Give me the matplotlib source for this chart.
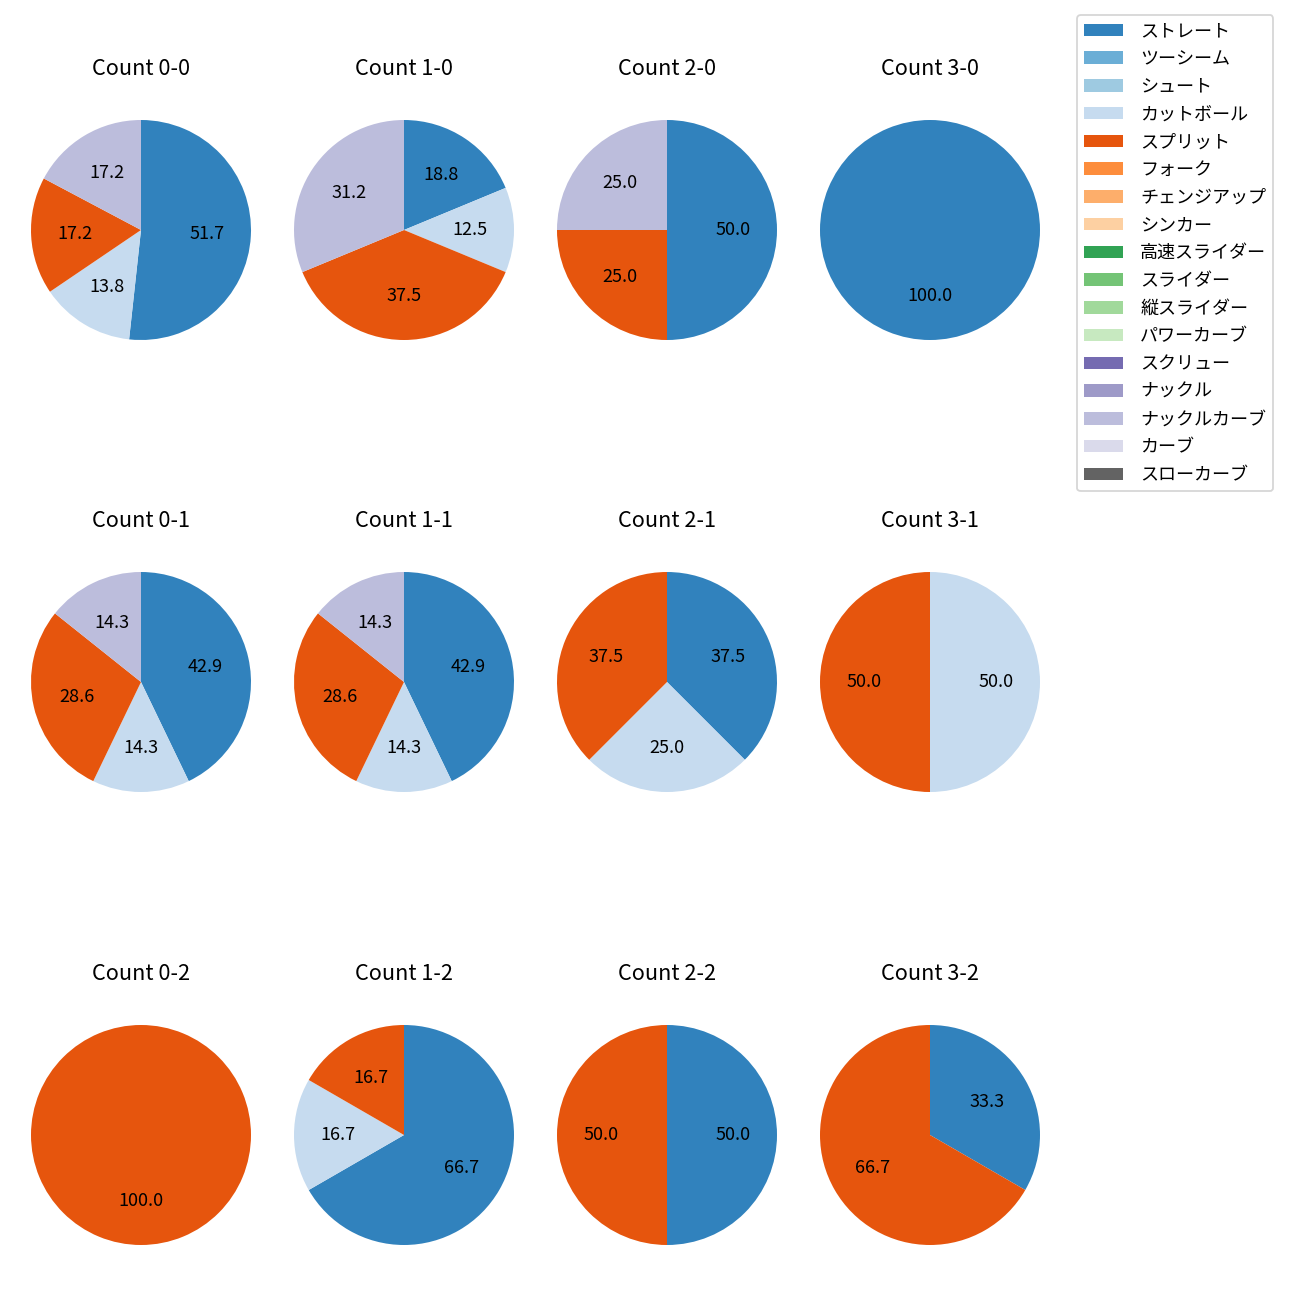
import matplotlib
matplotlib.use("Agg")
import matplotlib.pyplot as plt
from matplotlib.patches import Patch
import numpy as np

plt.rcParams['font.family'] = ['Noto Sans CJK JP', 'DejaVu Sans']

pitch_types = ["ストレート", "ツーシーム", "シュート", "カットボール", "スプリット", "フォーク",
               "チェンジアップ", "シンカー", "高速スライダー", "スライダー", "縦スライダー",
               "パワーカーブ", "スクリュー", "ナックル", "ナックルカーブ", "カーブ", "スローカーブ"]
pitch_colors = ["#3182bd", "#6baed6", "#9ecae1", "#c6dbef", "#e6550d", "#fd8d3c",
                "#fdae6b", "#fdd0a2", "#31a354", "#74c476", "#a1d99b", "#c7e9c0",
                "#756bb1", "#9e9ac8", "#bcbddc", "#dadaeb", "#636363"]

# counts per pitch type used: ストレート, カットボール, スプリット, ナックルカーブ
pie_types = ["ストレート", "カットボール", "スプリット", "ナックルカーブ"]
count_titles = ["Count 0-0", "Count 1-0", "Count 2-0", "Count 3-0",
                "Count 0-1", "Count 1-1", "Count 2-1", "Count 3-1",
                "Count 0-2", "Count 1-2", "Count 2-2", "Count 3-2"]
c00 = [15, 4, 5, 5]
c10 = [3, 2, 6, 5]
c20 = [2, 0, 1, 1]
c30 = [1, 0, 0, 0]
c01 = [3, 1, 2, 1]
c11 = [3, 1, 2, 1]
c21 = [3, 2, 3, 0]
c31 = [0, 1, 1, 0]
c02 = [0, 0, 1, 0]
c12 = [4, 1, 1, 0]
c22 = [1, 0, 1, 0]
c32 = [1, 0, 2, 0]
all_counts = [c00, c10, c20, c30, c01, c11, c21, c31, c02, c12, c22, c32]

fig = plt.figure(figsize=(10, 10), dpi=130)
W = H = 1300.0
cx = [141, 404, 667, 930]
cy = [230, 682, 1135]
R = 110.0
half = R * 1.25

color_map = dict(zip(pitch_types, pitch_colors))
for i, (title, vals) in enumerate(zip(count_titles, all_counts)):
    r, c = divmod(i, 4)
    left = (cx[c] - half) / W
    bottom = 1 - (cy[r] + half) / H
    ax = fig.add_axes([left, bottom, 2 * half / W, 2 * half / H])
    v = [x for x in vals if x > 0]
    cols = [color_map[t] for t, x in zip(pie_types, vals) if x > 0]
    ax.pie(v, colors=cols, autopct='%.1f', startangle=90, counterclock=False,
           textprops={'fontsize': 10})
    ax.set_xlim(-1.25, 1.25)
    ax.set_ylim(-1.25, 1.25)
    ax.set_title(title, fontsize=12, pad=9.5)

handles = [Patch(facecolor=col, label=lab) for lab, col in zip(pitch_types, pitch_colors)]
fig.legend(handles=handles, loc='upper left', bbox_to_anchor=(1077 / W, 1 - 15 / H),
           borderaxespad=0, fontsize=10, handlelength=2.15, handletextpad=0.95,
           labelspacing=0.54)

fig.savefig("out.png", dpi=130)
